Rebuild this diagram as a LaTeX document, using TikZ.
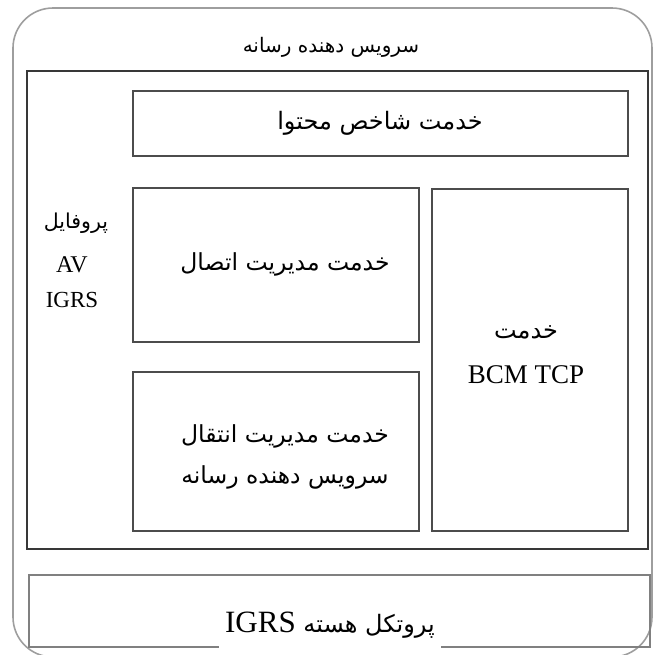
\documentclass[tikz,border=0pt]{standalone}
\usepackage{fontspec}
\setmainfont{Liberation Serif}
\newfontfamily\fa[Script=Arabic]{DejaVu Sans}
\TeXXeTstate=1
\newcommand{\rtl}[1]{{\fa\beginR #1\endR}}
\begin{document}
\begin{tikzpicture}[x=1pt,y=-1pt,
  shell/.style={draw=black!38,line width=1.6pt,rounded corners=40pt},
  frame/.style={draw=black!78,line width=1.3pt},
  svcbox/.style={draw=black!70,line width=1.7pt,fill=white},
  corebox/.style={draw=black!50,line width=2.2pt},
  lbl/.style={inner sep=0pt,align=center},
]
\useasboundingbox (0,0) rectangle (656,654);
% outer rounded shell, its lower edge runs off the page
\draw[shell] (13,8) rectangle (652,657);
% media server frame and core protocol strip
\draw[frame] (27,71) rectangle (648,549);
\node (core) [corebox,anchor=north west,minimum width=621pt,minimum height=72pt,inner sep=0pt] at (28,574) {};
% service boxes
\node (cidx) [svcbox,anchor=north west,minimum width=495pt,minimum height=65pt,inner sep=0pt] at (132,90) {};
\node (conn) [svcbox,anchor=north west,minimum width=286pt,minimum height=154pt,inner sep=0pt] at (132,187) {};
\node (xfer) [svcbox,anchor=north west,minimum width=286pt,minimum height=159pt,inner sep=0pt] at (132,371) {};
\node (bcm)  [svcbox,anchor=north west,minimum width=196pt,minimum height=342pt,inner sep=0pt] at (431,188) {};
% labels
\node (ttl) [lbl] at (331,47) {\fontsize{20}{24}\selectfont\rtl{سرویس دهنده رسانه}};
\node (tcidx) [lbl] at (380,123) {\fontsize{24}{28}\selectfont\rtl{خدمت شاخص محتوا}};
\node (tconn) [lbl] at (285,264) {\fontsize{23.5}{28}\selectfont\rtl{خدمت مدیریت اتصال}};
\node (txfer1) [lbl] at (285,436) {\fontsize{23.5}{28}\selectfont\rtl{خدمت مدیریت انتقال}};
\node (txfer2) [lbl] at (285,477) {\fontsize{23.5}{28}\selectfont\rtl{سرویس دهنده رسانه}};
\node (tbcm1) [lbl] at (526,332) {\fontsize{24}{28}\selectfont\rtl{خدمت}};
\node (tbcm2) [lbl] at (526,375) {\fontsize{27}{30}\selectfont BCM TCP};
\node (tprof1) [lbl] at (76,223) {\fontsize{20.5}{24}\selectfont\rtl{پروفایل}};
\node (tprof2) [lbl] at (72,265) {\fontsize{24}{28}\selectfont AV};
\node (tprof3) [lbl] at (72,300) {\fontsize{23}{28}\selectfont IGRS};
\node (tcore) [lbl,fill=white,inner xsep=6pt,minimum height=50pt] at (330,625) {\fontsize{24}{28}\selectfont{\fa\beginR پروتکل هسته \beginL{\rmfamily\fontsize{31}{34}\selectfont IGRS}\endL\endR}};
\end{tikzpicture}
\end{document}
